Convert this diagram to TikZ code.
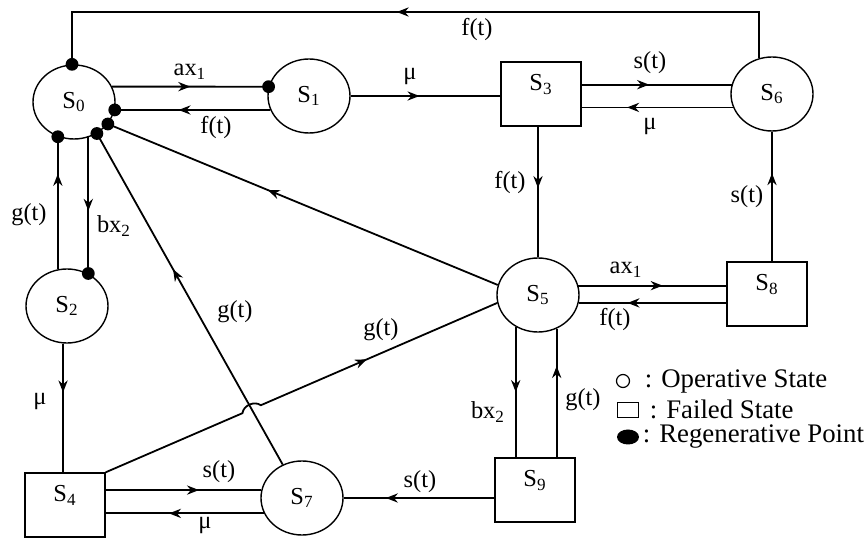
\documentclass[tikz,border=0pt]{standalone}
\usepackage{fontspec}
\setmainfont{Liberation Serif}
\usetikzlibrary{arrows.meta,positioning,calc,shapes.geometric,decorations.markings}

\tikzset{ar/.style={postaction={decorate,decoration={markings,mark=at position #1 with {\arrow{>}}}}}}

\begin{document}
\begin{tikzpicture}[x=0.5pt,y=-0.5pt,>={Stealth[length=6pt,width=4.6pt]},line width=0.9pt,font=\fontsize{12.2}{14}\selectfont]
\tikzstyle{os}=[draw,ellipse,line width=0.7pt,minimum width=41pt,minimum height=37pt,inner sep=0pt]
\tikzstyle{fs}=[draw,rectangle,line width=0.7pt,minimum width=40pt,minimum height=32pt,inner sep=0pt]
\tikzstyle{lg}=[anchor=west,inner sep=0pt,font=\fontsize{13.4}{15}\selectfont]
\useasboundingbox (0,0) rectangle (868,539);
% states
\foreach \n/\x/\y in {0/74/102,1/309/96,2/67/306,5/538/295,6/772/94,7/302/498} \node[os] (S\n) at (\x,\y) {S\textsubscript{\n}};
\foreach \n/\x/\y in {3/541/94,4/65/505,8/767/294,9/535/490} \node[fs] (S\n) at (\x,\y) {\raisebox{4.8pt}[\height][\depth]{S\textsubscript{\n}}\hspace{11pt}};
\coordinate (tp) at (0,12);
% transitions
\draw[ar=0.52] (S6.110) |- (S0.93 |- tp) -- (S0.93);
\draw[ar=0.5] (S0.22) -- (S1.167);
\draw[ar=0.59] (S1.200) -- (S0.349);
\draw[ar=0.46] (S1.east) -- (S1.east -| S3.west);
\draw[ar=0.45] (S6.167 -| S3.east) -- (S6.167);
\draw[ar=0.7] (S6.199) -- (S6.199 -| S3.east);
\draw[ar=0.47] (S5.north |- S3.south) -- (S5.north);
\draw[ar=0.68] (S6.south |- S8.north) -- (S6.south);
\draw[ar=0.59] (S5.166) -- (S0.327);
\draw[ar=0.57] (S5.13) -- (S5.13 -| S8.west);
\draw[ar=0.67] (S5.349 -| S8.west) -- (S5.349);
\draw[ar=0.5] (S5.235) -- (S5.235 |- S9.north);
\draw[ar=0.71] (S5.299 |- S9.north) -- (S5.299);
\draw[ar=0.72] (S7.east -| S9.west) -- (S7.east);
\draw[ar=0.6] (S7.169 -| S4.east) -- (S7.169);
\draw[ar=0.6] (S7.202) -- (S7.202 -| S4.east);
\draw[ar=0.38] (S2.264) -- (S2.264 |- S4.north);
\draw[ar=0.72] (S2.104) -- (S2.104 |- S0.245);
\draw[ar=0.54] (S0.292) -- (S0.292 |- S2.57);
\draw[ar=0.59] (S7.120) -- (S0.306);
\coordinate (X) at (intersection of S4.north east--S5.191 and S7.120--S0.306);
\draw[ar=0.67] (S4.north east) -- ($(X)!5pt!(S4.north east)$) to[bend left=60] ($(X)!5pt!(S5.191)$) -- (S5.191);
% regenerative points
\foreach \p in {S0.93,S1.167,S0.349,S0.327,S0.306} \fill (\p) circle (3.2pt);
\fill (S2.104 |- S0.245) circle (3.2pt);
\fill (S0.292 |- S2.57) circle (3.2pt);
% rates
\foreach \x/\y/\t [count=\k] in {190/72/ax\textsubscript{1},216/128/f(t),410/77/μ,477/30/f(t),650/63/s(t),650/127/μ,510/183/f(t),747/197/s(t),626/270/ax\textsubscript{1},615/320/f(t),488/412/bx\textsubscript{2},583/400/g(t),420/482/s(t),219/472/s(t),205/526/μ,40/402/μ,29/215/g(t),114/226/bx\textsubscript{2},235/312/g(t),381/330/g(t)} \node[inner sep=0pt] (l\k) at (\x,\y) {\t};
% key
\node[draw,circle,line width=0.6pt,minimum size=6.5pt,inner sep=0pt] (ko) at (623,381) {};
\node[draw,rectangle,line width=0.6pt,minimum width=10.5pt,minimum height=7.5pt,inner sep=0pt] (kf) at (628,410) {};
\node[fill,ellipse,minimum width=11pt,minimum height=7.5pt,inner sep=0pt] (kr) at (628,437) {};
\node[lg] (to) at (644,381) {: Operative State};
\node[lg] (tf) at (649,409) {: Failed State};
\node[lg] (tr) at (642,437) {: Regenerative Point};
\end{tikzpicture}
\end{document}
